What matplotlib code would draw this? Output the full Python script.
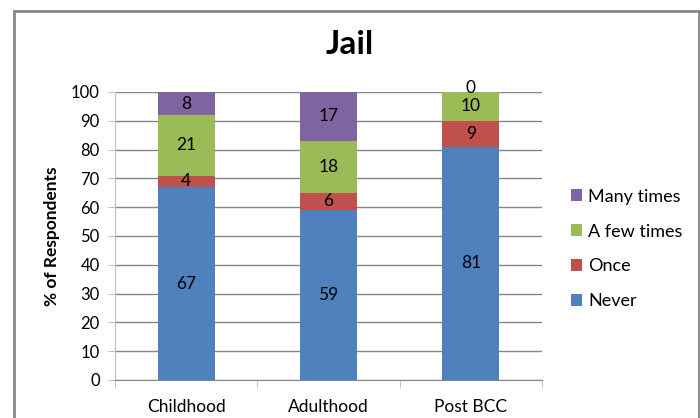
import matplotlib
matplotlib.use("Agg")
import matplotlib.pyplot as plt
from matplotlib.patches import Rectangle
import numpy as np

plt.rcParams['font.family'] = ['Lato', 'DejaVu Sans']

categories = ["Childhood", "Adulthood", "Post BCC"]
series_names = ["Never", "Once", "A few times", "Many times"]
never = [67, 59, 81]
once = [4, 6, 9]
few_times = [21, 18, 10]
many_times = [8, 17, 0]
colors = ["#4F81BD", "#C0504D", "#9BBB59", "#8064A2"]

fig = plt.figure(figsize=(7.0, 4.18), dpi=100)
ax = fig.add_axes([115/700, 38/418, 427/700, 288/418])

x = np.arange(len(categories))
bottom = np.zeros(len(categories))
handles = []
for name, vals, col in zip(series_names, [never, once, few_times, many_times], colors):
    vals = np.array(vals, dtype=float)
    bars = ax.bar(x, vals, width=0.4, bottom=bottom, color=col, label=name, zorder=3)
    handles.append(bars)
    for xi, b, v in zip(x, bottom, vals):
        # an empty segment's label sits just above the stack top
        dy = 3 if v == 0 else 0
        ax.annotate(f"{int(v)}", (xi, b + v / 2), xytext=(0, dy),
                    textcoords="offset points", ha="center", va="center",
                    fontsize=12.5, color="black", zorder=4,
                    annotation_clip=False)
    bottom += vals

ax.set_xlim(-0.5, 2.5)
ax.set_ylim(0, 100)
ax.set_yticks(np.arange(0, 101, 10))
ax.yaxis.grid(True, color="#868686", linewidth=1, zorder=0)
ax.tick_params(axis="y", length=5, color="#BFBFBF", labelsize=12, pad=6)

ax.set_xticks(x)
ax.set_xticklabels(categories)
ax.tick_params(axis="x", which="major", length=0, labelsize=12.5, pad=14)
ax.set_xticks([-0.5, 0.5, 1.5, 2.5], minor=True)
ax.tick_params(axis="x", which="minor", length=6, color="#BFBFBF", direction="out")

for side in ["top", "right"]:
    ax.spines[side].set_visible(False)
ax.spines["left"].set_color("#BFBFBF")
ax.spines["bottom"].set_color("#868686")

ax.set_ylabel("% of Respondents", fontsize=12.5, fontweight="bold", labelpad=8)

fig.text(0.5, 1 - 45/418, "Jail", ha="center", va="center",
         fontsize=24, fontweight="bold")

leg = fig.legend(handles[::-1], series_names[::-1], loc="center left",
                 bbox_to_anchor=(571/700, 1 - 249/418), frameon=False,
                 fontsize=13, handlelength=0.6, handleheight=0.6,
                 handletextpad=0.35, labelspacing=1.05, borderpad=0,
                 borderaxespad=0)

fig.patches.append(Rectangle((14.5/700, -0.05), (699 - 14.5)/700, 1.05 - 10.5/418,
                             transform=fig.transFigure, fill=False,
                             edgecolor="#888888", linewidth=2))

fig.savefig("out.png", dpi=100)
